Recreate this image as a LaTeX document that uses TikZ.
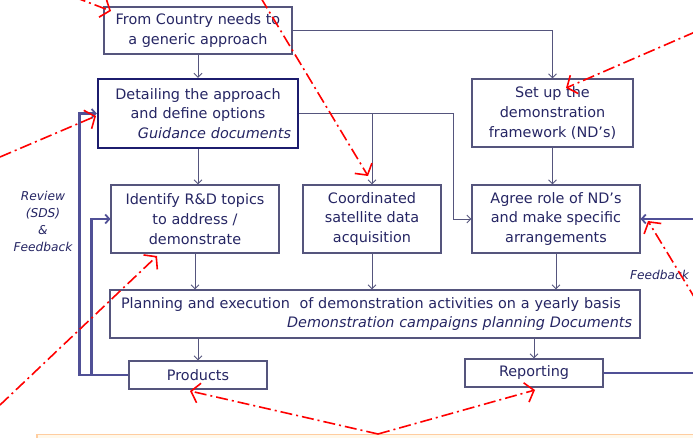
\documentclass[tikz,border=0pt]{standalone}
\usepackage{fontspec}
\setmainfont{DejaVu Sans}
\usetikzlibrary{arrows.meta}
\definecolor{txt}{RGB}{38,38,100}
\definecolor{bx}{RGB}{85,85,125}
\definecolor{navy}{RGB}{28,28,110}
\definecolor{fbc}{RGB}{80,80,150}
\definecolor{redc}{RGB}{255,0,0}
\definecolor{orb}{RGB}{255,205,160}
\definecolor{orf}{RGB}{255,248,235}
\begin{document}
\begin{tikzpicture}[x=1pt,y=-1pt,
 font=\fontsize{14.4}{19.8}\selectfont,
 box/.style={draw=bx, line width=1.1pt, text=txt, align=center, inner sep=0pt},
 conn/.style={draw=bx, line width=0.9pt, -{Straight Barb[length=4pt,width=8pt]}},
 fb/.style={draw=fbc, line width=2.4pt, -{Straight Barb[length=4pt,width=9pt,line width=1.8pt]}},
 fbl/.style={draw=fbc, line width=2.4pt},
 lbl/.style={text=txt, font=\fontsize{12.2}{17}\selectfont\itshape, align=center, inner sep=0pt},
 ann/.style={draw=redc, line width=1.6pt, dash pattern=on 12pt off 4pt on 2pt off 4pt, -{Straight Barb[length=8pt,width=20pt,line width=1.6pt]}}
]
\useasboundingbox (0,0) rectangle (693,438);
\fill[white] (0,0) rectangle (693,438);

% bottom orange box
\draw[draw=orb, fill=orf, line width=1.5pt] (37,434.5) rectangle (720,460);

% boxes
\node[box, minimum width=188pt, minimum height=47pt] (b1) at (198,30.5) {From Country needs to\\a generic approach};
\node[box, draw=navy, line width=2.4pt, minimum width=200pt, minimum height=69pt, text width=186pt] (b2) at (198,113.5)
  {Detailing the approach\\and define options\\\makebox[\linewidth][r]{\itshape Guidance documents}};
\node[box, minimum width=161pt, minimum height=68pt] (b3) at (552.5,113) {Set up the\\demonstration\\framework (ND's)};
\node[box, minimum width=168pt, minimum height=68pt] (b4) at (195,219) {Identify R\&D topics\\to address /\\demonstrate};
\node[box, minimum width=138pt, minimum height=68pt] (b5) at (372,219) {Coordinated\\satellite data\\acquisition};
\node[box, minimum width=168pt, minimum height=68pt] (b6) at (556,219) {Agree role of ND's\\and make specific\\arrangements};
\node[box, minimum width=530pt, minimum height=48pt, text width=514pt] (b7) at (375,314)
  {\makebox[\linewidth][l]{\hspace*{3pt}Planning and execution\ \ of demonstration activities on a yearly basis}\\
   \makebox[\linewidth][r]{\itshape Demonstration campaigns planning Documents}};
\node[box, minimum width=138pt, minimum height=28pt] (b8) at (198,375) {Products};
\node[box, minimum width=138pt, minimum height=28pt] (b9) at (534,373) {Reporting};

% labels
\node[lbl] (rev) at (43,221) {Review\\(SDS)\\\&\\Feedback};
\node[lbl, anchor=west] (fbk) at (630,275) {Feedback};

% connectors
\draw[conn] (b1.south) -- (b2.north);
\draw[conn] (b1.east) -| (b3.north);
\coordinate (j1) at (453,113.5);
\draw[conn] (b2.east) -- (j1) |- (b6.west);
\draw[conn] (b5.north |- b2.east) -- (b5.north);
\draw[conn] (b2.south) -- (b2.south |- b4.north);
\draw[conn] (b3.south) -- (b3.south |- b6.north);
\draw[conn] (b4.south) -- (b4.south |- b7.north);
\draw[conn] (b5.south) -- (b5.south |- b7.north);
\draw[conn] (b6.south) -- (b6.south |- b7.north);
\draw[conn] (b8.north |- b7.south) -- (b8.north);
\draw[conn] (b9.north |- b7.south) -- (b9.north);

% feedback loops
\draw[fb] (b8.west) -- ++(-49,0) |- (b2.west);
\draw[fb] (b8.west) -- ++(-37,0) |- (b4.west);
\coordinate (rend) at (695,373);
\draw[fbl] (b9.east) -- (rend);
\coordinate (fin) at (695,219);
\draw[fb] (fin) -- (b6.east);

% red annotation arrows
\coordinate (a1s) at (74,-3);
\coordinate (a1e) at (111,11);
\draw[ann] (a1s) -- (a1e);
\coordinate (a2s) at (0,157);
\coordinate (a2e) at (96,116);
\draw[ann] (a2s) -- (a2e);
\coordinate (a3s) at (261,-2);
\coordinate (a3e) at (368,176);
\draw[ann] (a3s) -- (a3e);
\coordinate (a4s) at (695,32);
\coordinate (a4e) at (566,88);
\draw[ann] (a4s) -- (a4e);
\coordinate (a5s) at (0,405);
\coordinate (a5e) at (157,256);
\draw[ann] (a5s) -- (a5e);
\coordinate (a6s) at (696,300);
\coordinate (a6e) at (648,221);
\draw[ann] (a6s) -- (a6e);
\coordinate (a7) at (378,434);
\coordinate (a7p) at (190,391);
\coordinate (a7r) at (535,390);
\draw[ann] (a7) -- (a7p);
\draw[ann] (a7) -- (a7r);
\end{tikzpicture}
\end{document}
